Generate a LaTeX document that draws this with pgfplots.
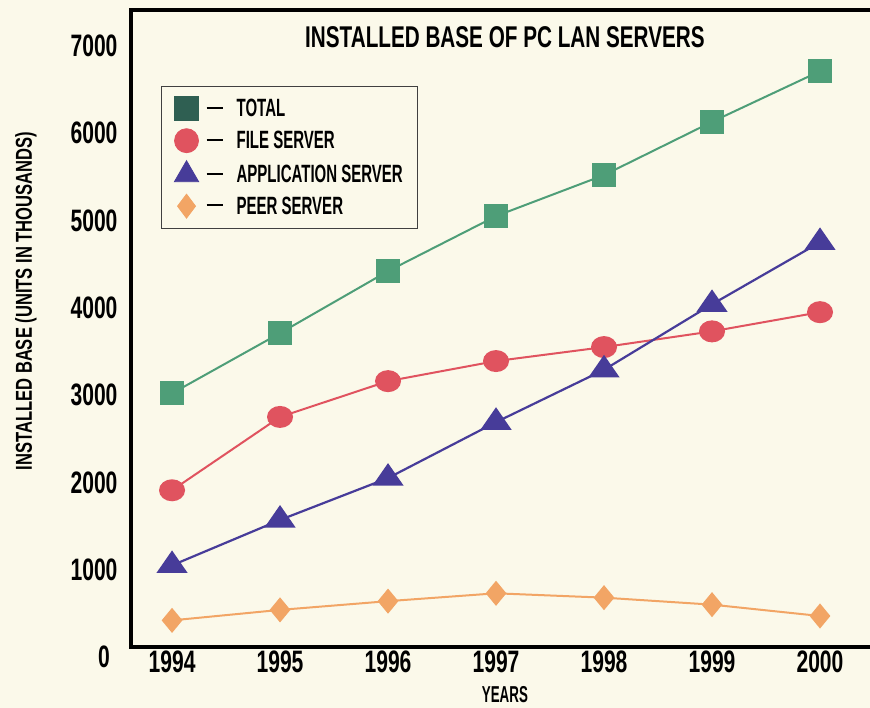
\documentclass[border=0pt]{standalone}
\usepackage{fontspec}
\usepackage{pgfplots}
\pgfplotsset{compat=1.18}
\newfontfamily\fTick[FakeStretch=0.68]{Liberation Sans}
\newfontfamily\fTitle[FakeStretch=0.69]{Liberation Sans}
\newfontfamily\fLeg[FakeStretch=0.60]{Liberation Sans}
\newfontfamily\fLab[FakeStretch=0.72]{Liberation Sans}
\newfontfamily\fYears[FakeStretch=0.58]{Liberation Sans}
\definecolor{bg}{HTML}{FBF9EA}
\definecolor{cgreen}{HTML}{4E9E78}
\definecolor{lgreen}{HTML}{2F5F52}
\definecolor{cred}{HTML}{E0535F}
\definecolor{cblue}{HTML}{473C99}
\definecolor{corange}{HTML}{F2A565}
\begin{document}
\begin{tikzpicture}
\fill[bg] (0,0) rectangle (870pt,708pt);
\begin{axis}[
  at={(131pt,61pt)}, anchor=south west,
  scale only axis, width=739pt, height=637pt,
  xmin=1993.62, xmax=2000.463, ymin=115, ymax=7411,
  xtick={1994,1995,1996,1997,1998,1999,2000},
  xticklabels={1994,1995,1996,1997,1998,1999,2000},
  ytick={1000,2000,3000,4000,5000,6000,7000},
  yticklabels={1000,2000,3000,4000,5000,6000,7000},
  major tick length=0pt,
  axis line style={draw=none},
  /pgf/number format/assume math mode=true,
  tick label style={font=\fTick\bfseries\fontsize{31}{31}\selectfont, text=black},
  yticklabel style={xshift=-10pt},
  clip=false,
  legend style={at={(rel axis cs:0.0406,0.881)}, anchor=north west,
    draw=black!75, line width=0.8pt, fill=none,
    font=\fLeg\bfseries\fontsize{25}{25}\selectfont,
    row sep=8pt, inner xsep=13pt, inner ysep=10.5pt},
  legend cell align=left,
]
\addlegendimage{only marks, mark=square*, mark size=12pt, color=lgreen}
\addlegendentry{\hspace{6pt}\rule[8pt]{16pt}{1.8pt}\hspace{14pt}TOTAL}
\addlegendimage{only marks, mark=*, mark size=12pt, color=cred}
\addlegendentry{\hspace{6pt}\rule[8pt]{16pt}{1.8pt}\hspace{14pt}FILE SERVER}
\addlegendimage{only marks, mark=triangle*, mark size=14pt, color=cblue}
\addlegendentry{\hspace{6pt}\rule[8pt]{16pt}{1.8pt}\hspace{14pt}APPLICATION SERVER}
\addlegendimage{only marks, mark=diamond*, mark size=12pt, color=corange}
\addlegendentry{\hspace{6pt}\rule[8pt]{16pt}{1.8pt}\hspace{14pt}PEER SERVER}

\addplot[forget plot, color=corange, line width=2pt, mark=diamond*, mark size=11pt, mark options={solid, xscale=1.1}]
  coordinates {(1994,420) (1995,540) (1996,640) (1997,730) (1998,680) (1999,600) (2000,470)};
\addplot[forget plot, color=cred, line width=2pt, mark=*, mark size=10pt, mark options={solid, xscale=1.2}]
  coordinates {(1994,1910) (1995,2750) (1996,3160) (1997,3390) (1998,3550) (1999,3730) (2000,3950)};
\addplot[forget plot, color=cblue, line width=2.2pt, mark=triangle*, mark size=13pt, mark options={solid, xscale=1.2}]
  coordinates {(1994,1050) (1995,1570) (1996,2050) (1997,2690) (1998,3290) (1999,4040) (2000,4750)};
\addplot[forget plot, color=cgreen, line width=2pt, mark=square*, mark size=11pt, mark options={solid}]
  coordinates {(1994,3020) (1995,3710) (1996,4420) (1997,5050) (1998,5520) (1999,6130) (2000,6710)};

\draw[line width=4pt, line join=miter] (rel axis cs:1,1) -- (rel axis cs:0,1) -- (rel axis cs:0,0) -- (rel axis cs:1,0);
\node[anchor=east, inner sep=0pt, font=\fTick\bfseries\fontsize{31}{31}\selectfont] at ([xshift=-21pt]axis cs:1993.62,0) {0};
\node[font=\fTitle\bfseries\fontsize{30}{30}\selectfont] at (rel axis cs:0.506,0.958) {INSTALLED BASE OF PC LAN SERVERS};
\node[anchor=north, inner sep=0pt, font=\fYears\bfseries\fontsize{23}{23}\selectfont] at ([yshift=-39pt]rel axis cs:0.506,0) {YEARS};
\node[rotate=90, inner sep=0pt, font=\fLab\bfseries\fontsize{23}{23}\selectfont] at ([xshift=-105pt]rel axis cs:0,0.543) {INSTALLED BASE (UNITS IN THOUSANDS)};
\end{axis}
\pgfresetboundingbox
\path[use as bounding box] (0,0) rectangle (870pt,708pt);
\end{tikzpicture}
\end{document}
